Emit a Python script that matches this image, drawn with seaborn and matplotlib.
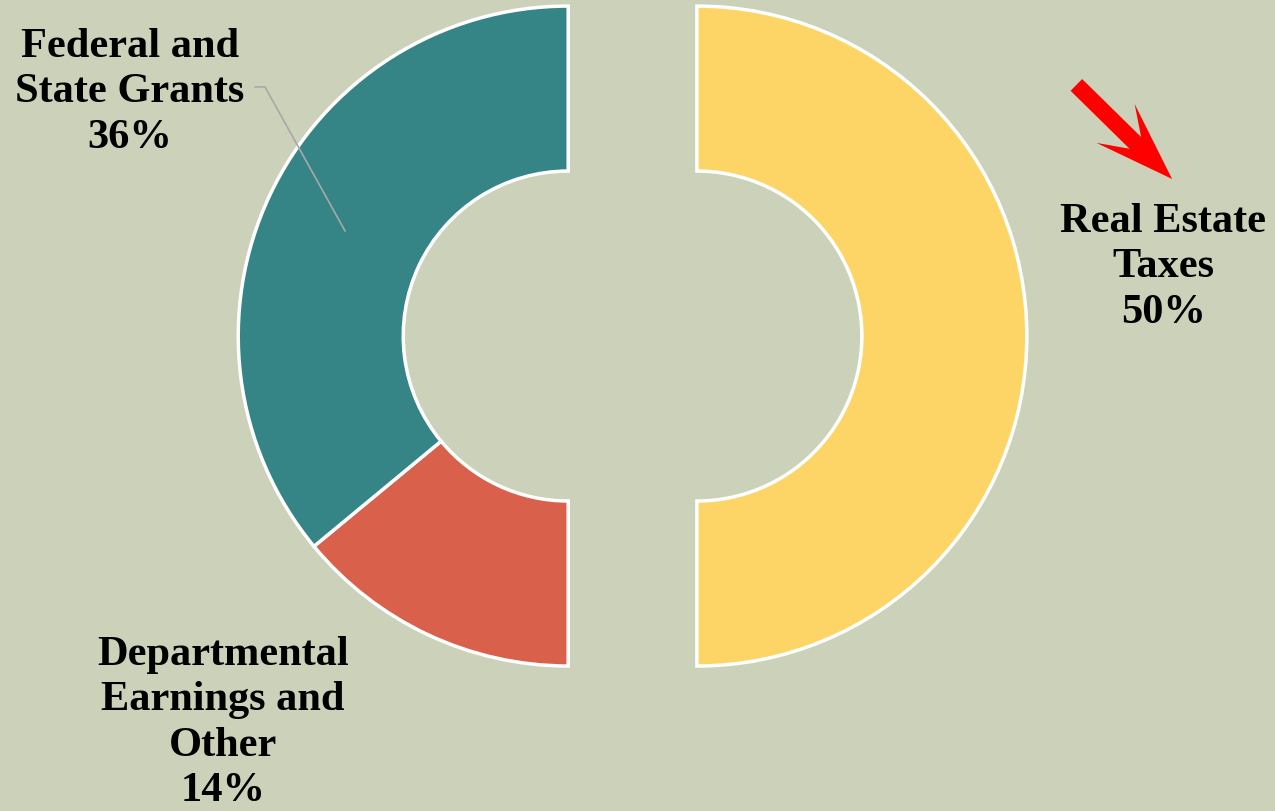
import matplotlib.pyplot as plt
import seaborn as sns

# revenue sources (share of total, %)
sources = ['Real Estate Taxes', 'Departmental Earnings and Other', 'Federal and State Grants']
shares = [50, 14, 36]
labels = ['Real Estate\nTaxes\n50%', 'Departmental\nEarnings and\nOther\n14%', 'Federal and\nState Grants\n36%']
colors = ['#FDD567', '#D9604A', '#358586']

bg = '#CCD2BA'
sns.set_theme(style='white', rc={'figure.facecolor': bg, 'axes.facecolor': bg})
plt.rcParams['font.family'] = ['Liberation Serif', 'DejaVu Serif']

fig = plt.figure(figsize=(12.75, 8.12), dpi=100)
ax = fig.add_axes([0, 0, 1, 1])

wedges, _ = ax.pie(shares, colors=colors, startangle=90, counterclock=False,
                   radius=1.0, wedgeprops=dict(width=0.5, edgecolor='white', linewidth=2.5))

# split the ring: the big slice to the right, the rest to the left
gap = 0.195
for w, s in zip(wedges, sources):
    if s == 'Real Estate Taxes':
        w.set_center((gap, 0))
    else:
        w.set_center((-gap, 0))

ax.set_aspect('equal')
ax.set_xlim(-1.917, 1.947)
ax.set_ylim(-1.439, 1.021)
ax.axis('off')

txt = dict(fontsize=30.5, fontweight='bold', ha='center', va='center', linespacing=1.26, color='black')
ax.text(1.608, 0.212, labels[0], **txt)
ax.text(-1.241, -1.170, labels[1], **txt)
ax.text(-1.523, 0.742, labels[2], **txt)

# leader line for the grants label
ax.plot([-1.144, -1.114, -0.871], [0.755, 0.755, 0.318], color='#A8A8A8', lw=1.2)

# red arrow pointing at real estate taxes
ax.arrow(1.345, 0.761, 0.29, -0.285, width=0.05, head_width=0.165, head_length=0.24,
         overhang=0.35, length_includes_head=True, color='#FF0000', lw=0)

fig.savefig('out.png', dpi=100, facecolor=bg)
